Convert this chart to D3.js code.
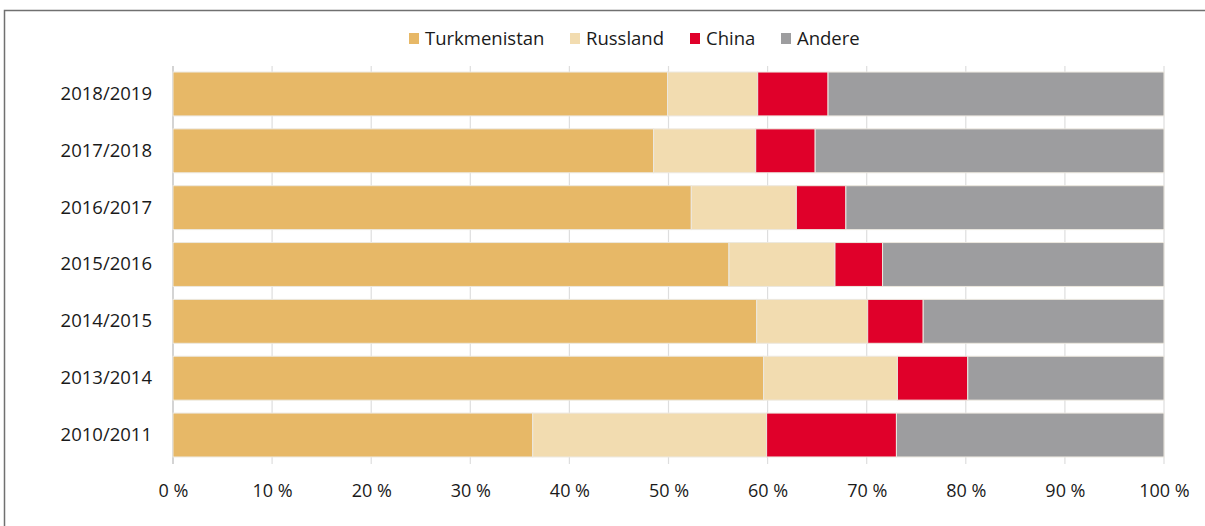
<!DOCTYPE html>
<html>
<head>
<meta charset="utf-8">
<script src="https://cdn.jsdelivr.net/npm/d3@7"></script>
<style>
  html, body { margin: 0; padding: 0; background: #fff; }
  svg { display: block; font-family: "Open Sans", "Noto Sans", sans-serif; }
</style>
</head>
<body>
<svg id="chart" width="1205" height="526"></svg>
<script>
// ---- data ----
const years = ["2018/2019", "2017/2018", "2016/2017", "2015/2016", "2014/2015", "2013/2014", "2010/2011"];
const seriesNames = ["Turkmenistan", "Russland", "China", "Andere"];
const turkmenistan = [49.9, 48.5, 52.3, 56.1, 58.9, 59.6, 36.3];
const russland     = [ 9.1, 10.3, 10.6, 10.7, 11.2, 13.5, 23.6];
const china        = [ 7.1,  6.0,  5.0,  4.8,  5.6,  7.1, 13.1];
const andere       = [33.9, 35.2, 32.1, 28.4, 24.3, 19.8, 27.0];
const tickValues = [0, 10, 20, 30, 40, 50, 60, 70, 80, 90, 100];
const colors = ["#e7b867", "#f2dcb0", "#e0002a", "#9d9d9f"];

const rows = years.map((y, i) => ({
  year: y,
  Turkmenistan: turkmenistan[i],
  Russland: russland[i],
  China: china[i],
  Andere: andere[i]
}));

const svg = d3.select("#chart");

// frame
svg.append("path")
  .attr("d", "M4.5,530 L4.5,10.5 L1210,10.5")
  .attr("fill", "none")
  .attr("stroke", "#707070")
  .attr("stroke-width", 1.5);

const x = d3.scaleLinear().domain([0, 100]).range([173, 1164]);
const y = d3.scaleBand().domain(years).range([65.5, 463.5])
  .paddingInner(0.228).paddingOuter(0.115);
const color = d3.scaleOrdinal().domain(seriesNames).range(colors);

// gridlines + ticks
svg.append("g").selectAll("line").data(tickValues).join("line")
  .attr("x1", d => x(d)).attr("x2", d => x(d))
  .attr("y1", 66).attr("y2", 464)
  .attr("stroke", d => d === 0 ? "#d4d4d4" : "#dedede")
  .attr("stroke-width", d => d === 0 ? 2 : 1.2);

// stacked bars
const stack = d3.stack().keys(seriesNames);
const layers = stack(rows);
svg.append("g").selectAll("g").data(layers).join("g")
  .attr("fill", d => color(d.key))
  .selectAll("rect").data(d => d).join("rect")
  .attr("x", d => x(d[0]))
  .attr("y", d => y(d.data.year))
  .attr("width", d => x(d[1]) - x(d[0]))
  .attr("height", y.bandwidth())
  .attr("stroke", "#ece8df")
  .attr("stroke-width", 1);

// x axis labels
const xAxis = d3.axisBottom(x).tickValues(tickValues).tickFormat(d => d + " %").tickSize(0).tickPadding(0);
const gx = svg.append("g").attr("transform", "translate(0,484)").call(xAxis);
gx.select(".domain").remove();
gx.selectAll("text").attr("font-size", 18).attr("fill", "#1a1a1a")
  .attr("font-family", "'Open Sans', sans-serif").attr("dy", "0.71em");

// y axis labels
const yAxis = d3.axisLeft(y).tickSize(0).tickPadding(0);
const gy = svg.append("g").attr("transform", "translate(152,0)").call(yAxis);
gy.select(".domain").remove();
gy.selectAll("text").attr("font-size", 18.5).attr("fill", "#1a1a1a")
  .attr("font-family", "'Open Sans', sans-serif");

// legend
const legendX = [409, 570, 690, 781];
const lg = svg.append("g").selectAll("g").data(seriesNames).join("g")
  .attr("transform", (d, i) => `translate(${legendX[i]},0)`);
lg.append("rect").attr("x", 0).attr("y", 33).attr("width", 10).attr("height", 11)
  .attr("fill", d => color(d));
lg.append("text").attr("x", 16).attr("y", 45)
  .attr("font-size", 18.5).attr("fill", "#1a1a1a")
  .text(d => d);
</script>
</body>
</html>
